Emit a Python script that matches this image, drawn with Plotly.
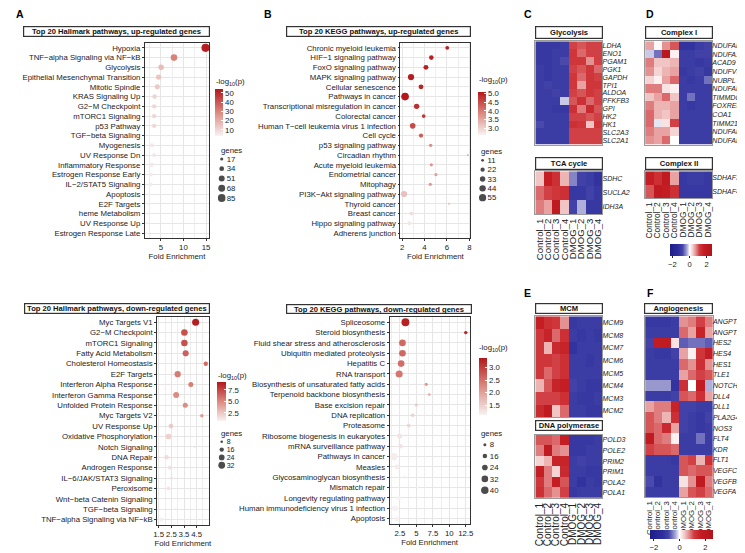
import plotly.graph_objects as go

W, H = 745, 553
FONT = "Liberation Sans, Arial, sans-serif"
FS = 7.8

# ---------------- A: Hallmark, up ----------------
hall_up_terms = ["Hypoxia", "TNF−alpha Signaling via NF−kB", "Glycolysis",
                 "Epithelial Mesenchymal Transition", "Mitotic Spindle", "KRAS Signaling Up",
                 "G2−M Checkpoint", "mTORC1 Signaling", "p53 Pathway", "TGF−beta Signaling",
                 "Myogenesis", "UV Response Dn", "Inflammatory Response", "Estrogen Response Early",
                 "IL−2/STAT5 Signaling", "Apoptosis", "E2F Targets", "heme Metabolism",
                 "UV Response Up", "Estrogen Response Late"]
hall_up_fold = [14.9, 7.9, 5.05, 4.5, 4.2, 3.6, 3.5, 3.5, 3.5, 6.1,
                3.0, 3.5, 3.0, 2.8, 2.7, 2.4, 2.1, 2.1, 1.9, 1.8]
hall_up_logp = [52, 30, 16, 14, 13, 10, 9.5, 9.5, 9.5, 4,
                6, 6, 5.5, 5, 5, 3.8, 3.2, 3.2, 2.8, 2.8]
hall_up_genes = [92, 62, 45, 42, 38, 32, 30, 30, 30, 8,
                 25, 22, 25, 22, 22, 17, 14, 15, 12, 11]
hall_up_legend = [17, 34, 51, 68, 85]

# ---------------- B: KEGG, up ----------------
kegg_up_terms = ["Chronic myeloid leukemia", "HIF−1 signaling pathway", "FoxO signaling pathway",
                 "MAPK signaling pathway", "Cellular senescence", "Pathways in cancer",
                 "Transcriptional misregulation in cancer", "Colorectal cancer",
                 "Human T−cell leukemia virus 1 infection", "Cell cycle", "p53 signaling pathway",
                 "Circadian rhythm", "Acute myeloid leukemia", "Endometrial cancer", "Mitophagy",
                 "PI3K−Akt signaling pathway", "Thyroid cancer", "Breast cancer",
                 "Hippo signaling pathway", "Adherens junction"]
kegg_up_fold = [6.03, 4.61, 4.13, 2.80, 3.69, 2.27, 3.30, 3.93, 2.95, 3.69,
                4.55, 7.87, 4.61, 5.02, 4.52, 2.18, 6.18, 2.83, 2.65, 3.9]
kegg_up_logp = [5.0, 5.0, 5.0, 5.05, 4.95, 5.1, 4.85, 4.75, 4.55, 4.35,
                3.85, 3.7, 3.75, 3.65, 3.7, 3.25, 3.25, 2.9, 2.8, 2.7]
kegg_up_genes = [18, 24, 28, 42, 28, 60, 33, 17, 35, 22,
                 15, 6, 14, 13, 14, 40, 7, 18, 20, 11]
kegg_up_legend = [11, 22, 33, 44, 55]

# ---------------- A: Hallmark, down ----------------
hall_dn_terms = ["Myc Targets V1", "G2−M Checkpoint", "mTORC1 Signaling", "Fatty Acid Metabolism",
                 "Cholesterol Homeostasis", "E2F Targets", "Interferon Alpha Response",
                 "Interferon Gamma Response", "Unfolded Protein Response", "Myc Targets V2",
                 "UV Response Up", "Oxidative Phosphorylation", "Notch Signaling", "DNA Repair",
                 "Androgen Response", "IL−6/JAK/STAT3 Signaling", "Peroxisome",
                 "Wnt−beta Catenin Signaling", "TGF−beta Signaling", "TNF−alpha Signaling via NF−kB"]
hall_dn_fold = [4.42, 3.53, 3.53, 3.63, 5.22, 3.0, 4.04, 2.88, 3.6, 4.91,
                2.47, 2.27, 4.35, 2.12, 2.37, 2.5, 2.27, 3.17, 2.86, 1.7]
hall_dn_logp = [9.0, 7.2, 7.2, 6.6, 6.2, 5.6, 5.5, 5.0, 5.0, 4.4,
                2.5, 2.2, 1.8, 1.8, 1.6, 1.5, 1.5, 1.2, 1.2, 1.0]
hall_dn_genes = [34, 30, 30, 27, 16, 28, 20, 26, 20, 12,
                 18, 24, 5, 17, 13, 11, 13, 5, 7, 15]
hall_dn_legend = [8, 16, 24, 32]

# ---------------- B: KEGG, down ----------------
kegg_dn_terms = ["Spliceosome", "Steroid biosynthesis", "Fluid shear stress and atherosclerosis",
                 "Ubiquitin mediated proteolysis", "Hepatitis C", "RNA transport",
                 "Biosynthesis of unsaturated fatty acids", "Terpenoid backbone biosynthesis",
                 "Base excision repair", "DNA replication", "Proteasome",
                 "Ribosome biogenesis in eukaryotes", "mRNA surveillance pathway",
                 "Pathways in cancer", "Measles", "Glycosaminoglycan biosynthesis",
                 "Mismatch repair", "Longevity regulating pathway",
                 "Human immunodeficiency virus 1 infection", "Apoptosis"]
kegg_dn_fold = [3.35, 12.5, 2.9, 2.9, 2.7, 2.4, 6.5, 6.96, 5.0, 4.45,
                3.85, 2.45, 2.6, 1.6, 2.1, 3.2, 5.2, 2.4, 1.75, 2.05]
kegg_dn_logp = [3.3, 3.3, 2.6, 2.6, 2.55, 2.45, 2.1, 1.85, 1.55, 1.5,
                1.45, 1.3, 1.3, 1.2, 1.2, 1.2, 1.15, 1.15, 1.15, 1.15]
kegg_dn_genes = [44, 10, 32, 32, 32, 36, 9, 7, 9, 11,
                 12, 20, 17, 38, 18, 8, 5, 14, 24, 16]
kegg_dn_legend = [8, 16, 24, 32, 40]

# ---------------- heatmaps (row z-scores) ----------------
samples = ["Control_1", "Control_2", "Control_3", "Control_4",
           "DMOG_1", "DMOG_2", "DMOG_3", "DMOG_4"]

glyco_genes = ["LDHA", "ENO1", "PGAM1", "PGK1", "GAPDH", "TPI1", "ALDOA", "PFKFB3",
               "GPI", "HK2", "HK1", "SLC2A3", "SLC2A1"]
glyco_z = [
    [-1.1, -1.1, -1.1, -1.0, 1.1, 1.0, 1.1, 1.1],
    [-1.1, -1.1, -1.0, -1.0, 1.2, 0.9, 1.1, 1.1],
    [-1.1, -1.1, -1.0, -0.8, 1.2, 1.2, 0.7, 1.1],
    [-1.0, -1.1, -1.0, -1.0, 1.1, 1.0, 1.2, 0.9],
    [-1.0, -1.1, -1.0, -1.0, 1.2, 0.9, 1.2, 1.1],
    [-1.0, -0.9, -1.0, -1.0, 1.2, 0.6, 1.2, 1.2],
    [-1.0, -1.0, -0.9, -1.0, 1.1, 1.0, 1.2, 1.1],
    [-1.0, -1.0, -1.0, -0.2, 1.0, 1.3, 0.9, 1.1],
    [-1.0, -1.0, -1.1, -1.1, 1.3, 0.8, 1.4, 1.0],
    [-1.0, -1.0, -1.0, -1.0, 1.1, 1.1, 1.0, 1.1],
    [-0.8, -1.0, -1.0, -1.0, 1.3, 1.2, 0.4, 1.2],
    [-1.0, -1.0, -1.0, -1.0, 1.1, 1.1, 1.1, 1.1],
    [-1.0, -1.0, -1.0, -1.0, 1.1, 1.1, 1.1, 1.1],
]
tca_genes = ["SDHC", "SUCLA2", "IDH3A"]
tca_z = [
    [0.4, 1.6, 1.3, 0.5, -0.5, -0.9, -1.0, -1.2],
    [0.9, 1.1, 1.2, 1.3, -1.1, -1.1, -0.9, -1.1],
    [0.8, 0.6, 1.9, 0.4, -0.9, -0.3, -1.1, -1.1],
]
cplx1_genes = ["NDUFAF8", "NDUFA12", "ACAD9", "NDUFV3", "NUBPL", "NDUFAF4", "TIMMDC1",
               "FOXRED1", "COA1", "TIMM21", "NDUFAF7", "NDUFAF1"]
cplx1_z = [
    [0.6, 0.05, 0.7, 1.0, -1.2, -1.2, -1.0, -0.9],
    [-0.2, -0.6, 2.2, 0.1, -1.0, -1.0, -0.9, -0.9],
    [0.8, 0.4, 0.4, 0.5, -1.0, -1.0, -1.1, -1.0],
    [0.7, 0.3, 0.5, 0.6, -1.1, -1.0, -0.9, -1.1],
    [0.3, 0.1, 0.6, 0.9, -1.0, -1.1, -1.0, -0.6],
    [0.8, 0.8, 0.2, 0.1, -1.0, -1.0, -1.0, -1.0],
    [0.4, 0.6, 0.9, 0.4, -1.0, -0.6, -1.0, -1.0],
    [0.8, 0.5, 0.5, 0.6, -1.0, -1.1, -1.0, -1.0],
    [0.9, 0.5, 0.4, 0.6, -1.0, -1.0, -1.0, -1.0],
    [0.9, -0.1, 0.2, 1.1, -1.0, -1.0, -1.0, -1.0],
    [0.8, 0.6, 0.6, 0.3, -1.0, -1.0, -1.0, -1.0],
    [0.7, 0.6, 0.9, 0.0, -1.0, -1.0, -1.0, -1.0],
]
cplx2_genes = ["SDHAF3", "SDHAF4"]
cplx2_z = [
    [1.6, 1.3, 1.8, 0.6, -1.1, -1.0, -1.0, -1.1],
    [1.0, 1.8, 1.6, 1.3, -1.1, -1.1, -1.1, -1.1],
]
mcm_genes = ["MCM9", "MCM8", "MCM7", "MCM6", "MCM5", "MCM4", "MCM3", "MCM2"]
mcm_z = [
    [1.6, 1.3, 1.2, 0.7, -1.1, -1.0, -1.0, -1.0],
    [1.2, 1.5, 0.9, 1.3, -1.0, -1.1, -1.0, -1.1],
    [1.2, 0.5, 1.4, 1.5, -1.2, -1.0, -1.0, -1.0],
    [1.2, 1.2, 1.1, 1.3, -1.0, -1.0, -1.1, -1.0],
    [1.2, 0.9, 1.1, 1.3, -1.0, -1.0, -1.0, -1.0],
    [0.5, 1.0, 1.5, 1.6, -0.9, -1.0, -1.1, -1.1],
    [1.1, 1.1, 1.1, 1.3, -1.0, -1.1, -1.1, -1.0],
    [1.4, 1.8, 0.4, 0.9, -1.0, -1.0, -1.1, -1.1],
]
pol_genes = ["POLD3", "POLE2", "PRIM2", "PRIM1", "POLA2", "POLA1"]
pol_z = [
    [1.0, 1.0, 0.9, 1.6, -1.1, -1.1, -1.1, -1.0],
    [0.8, 1.8, 0.8, 0.7, -1.1, -1.1, -1.0, -1.0],
    [0.3, 0.5, 1.5, 1.5, -1.0, -0.9, -1.0, -1.0],
    [1.6, 0.8, 0.3, 1.4, -1.0, -1.0, -1.1, -1.1],
    [1.2, 0.8, 1.6, 1.0, -1.0, -1.2, -1.0, -1.1],
    [1.3, 0.9, 0.7, 1.1, -1.1, -1.0, -1.0, -1.0],
]
angio_genes = ["ANGPT2", "ANGPTL4", "HES2", "HES4", "HES1", "TLE1", "NOTCH1", "DLL4", "DLL1",
               "PLA2G4A", "NOS3", "FLT4", "KDR", "FLT1", "VEGFC", "VEGFB", "VEGFA"]
angio_z = [
    [-1.1, -1.1, -1.1, -1.0, 0.7, 0.8, 1.1, 0.8],
    [-1.0, -1.0, -1.0, -1.0, 0.9, 0.6, 1.5, 0.6],
    [-0.9, 1.7, 1.8, 0.2, -0.7, -0.6, -0.6, -0.7],
    [-1.0, -1.1, -1.1, -0.9, 0.6, 0.1, 1.2, 1.6],
    [-1.0, -1.0, -1.0, -1.0, 0.9, 0.7, 1.3, 0.7],
    [-1.0, -1.0, -1.0, -1.0, 0.6, 0.9, 1.1, 1.0],
    [-0.4, -0.4, -0.4, -1.2, 1.3, 0.0, 1.7, -0.3],
    [-1.0, -1.0, -1.0, -0.9, 1.0, 0.9, 1.3, 0.6],
    [0.6, 0.8, 0.8, 1.5, -0.9, -0.9, -1.0, -1.0],
    [1.0, 0.8, 0.5, 1.3, -0.9, -1.0, -1.1, -0.9],
    [1.0, 0.9, 1.4, 0.6, -0.9, -1.0, -1.1, -1.0],
    [1.8, 0.9, 0.8, 0.1, -1.0, -1.0, -0.6, -1.0],
    [1.1, 1.0, 1.0, 0.9, -1.0, -1.0, -1.0, -1.0],
    [-1.0, -1.0, -1.0, -1.1, 1.0, 1.1, 0.5, 1.3],
    [-1.0, -1.0, -1.0, -1.0, 1.0, 0.9, 1.0, 1.0],
    [-0.8, -1.2, -1.0, -1.0, 0.2, 0.7, 1.8, 0.8],
    [-1.0, -1.0, -1.0, -1.0, 0.6, 1.0, 1.1, 0.9],
]


def xd(x0, x1):
    return [x0 / W, x1 / W]


def yd(y0, y1):
    return [1 - y1 / H, 1 - y0 / H]


def dot_px(g, lo, hi):
    # ggplot-like area scale: diameter linear in sqrt(genes)
    (g0, d0), (g1, d1) = lo, hi
    b = (d1 - d0) / (g1 ** 0.5 - g0 ** 0.5)
    return [d0 + b * (v ** 0.5 - g0 ** 0.5) for v in g]


DOT_SCALE = [[0, "#f7f3f3"], [0.5, "#dc8a80"], [1, "#b3171b"]]
HEAT_SCALE = [[0.0, "#1c1c8a"], [0.2, "#2e2e9c"], [0.3, "#4444aa"], [0.4, "#a4a4d4"],
              [0.469, "#ffffff"], [0.55, "#f2c6c6"], [0.62, "#e28a8a"], [0.70, "#d03a3e"],
              [0.8, "#c41d23"], [1.0, "#b0141a"]]

dot_panels = [
    dict(terms=hall_up_terms, fold=hall_up_fold, logp=hall_up_logp, genes=hall_up_genes,
         legend=hall_up_legend, box=(134.3, 35, 199.3, 230), xr=[1.44, 15.7],
         ticks=[5, 10, 15], minor=2.5, crange=(2.8, 53.6), cticks=[10, 20, 30, 40, 50],
         cfmt="d", cbar=(205.7, 81.7, 7.6, 46.6), ctitle=(204, 74), size=((17, 3.2), (85, 7.8)),
         leg=(208, 146.1, 216, 194.9), gtitle=(209, 143), lfs=FS,
         title="Top 20 Hallmark pathways, up-regulated genes", tbox=(12.7, 18.3, 199.3, 29.3)),
    dict(terms=kegg_up_terms, fold=kegg_up_fold, logp=kegg_up_logp, genes=kegg_up_genes,
         legend=kegg_up_legend, box=(392.7, 35, 463.3, 230), xr=[1.86, 8.09],
         ticks=[2, 4, 6, 8], minor=1, crange=(2.66, 5.11),
         cticks=[3.0, 3.5, 4.0, 4.5, 5.0], cfmt=".1f", cbar=(471, 83.3, 8.3, 43.4),
         ctitle=(470, 71.7), size=((11, 2.8), (55, 7.3)), leg=(471.7, 147.6, 479.7, 194.4),
         gtitle=(472, 143.3), lfs=FS,
         title="Top 20 KEGG pathways, up-regulated genes", tbox=(278.3, 18.3, 463.3, 29.3)),
    dict(terms=hall_dn_terms, fold=hall_dn_fold, logp=hall_dn_logp, genes=hall_dn_genes,
         legend=hall_dn_legend, box=(146.7, 309, 198.7, 516.8), xr=[1.375, 5.44],
         ticks=[1.5, 2.5, 3.5, 4.5], minor=0.5, crange=(0.85, 9.3),
         cticks=[2.5, 5.0, 7.5], cfmt=".1f", cbar=(207.7, 373.3, 9, 39.4), ctitle=(206, 368.3),
         size=((8, 2.6), (32, 6.8)), leg=(208, 429.8, 216, 461.2), gtitle=(209, 425.7), lfs=7,
         title="Top 20 Hallmark pathways, down-regulated genes", tbox=(13.3, 295, 198.7, 305.7)),
    dict(terms=kegg_dn_terms, fold=kegg_dn_fold, logp=kegg_dn_logp, genes=kegg_dn_genes,
         legend=kegg_dn_legend, box=(381.7, 309.1, 462.7, 515.8), xr=[0.95, 13.1],
         ticks=[2.5, 5.0, 7.5, 10.0, 12.5], minor=1.25, crange=(1.13, 3.4),
         cticks=[1.5, 2.0, 2.5, 3.0], cfmt=".1f", cbar=(471.7, 349.3, 8.3, 57.4),
         ctitle=(470.5, 340), size=((8, 3.0), (40, 7.5)), leg=(474, 431, 482, 488),
         gtitle=(472, 425.7), lfs=FS,
         title="Top 20 KEGG pathways, down-regulated genes", tbox=(277.7, 296, 463.3, 306)),
]

fig = go.Figure()
layout = {}
annotations = []


def box_title(text, x0, y0, x1, y1):
    annotations.append(dict(
        text="<b>%s</b>" % text, x=(x0 + x1) / 2 / W, y=1 - (y0 + y1) / 2 / H,
        xref="paper", yref="paper", xanchor="center", yanchor="middle", showarrow=False,
        width=x1 - x0 - 2, height=y1 - y0 - 2, borderpad=0, bordercolor="#333333",
        borderwidth=1.2, bgcolor="white", font=dict(size=7.6, color="#111111")))


for i, p in enumerate(dot_panels):
    n = i + 1
    x0, y0, x1, y1 = p["box"]
    sizes = dot_px(p["genes"], *p["size"])
    cx, cy, cth, clen = p["cbar"]
    fig.add_trace(go.Scatter(
        x=p["fold"], y=p["terms"], mode="markers", xaxis="x%d" % n, yaxis="y%d" % n,
        showlegend=False, hoverinfo="skip",
        marker=dict(size=sizes, color=p["logp"], colorscale=DOT_SCALE,
                    cmin=p["crange"][0], cmax=p["crange"][1], opacity=1, line=dict(width=0),
                    colorbar=dict(x=cx / W, xanchor="left", y=1 - (cy + clen / 2) / H,
                                  yanchor="middle", lenmode="pixels", len=clen,
                                  thickness=cth, xpad=0, ypad=0, outlinewidth=0,
                                  tickmode="array", tickvals=p["cticks"], ticks="inside",
                                  ticklen=2, tickcolor="white",
                                  tickfont=dict(size=FS, color="#222"),
                                  tickformat=p["cfmt"]))))
    nt = len(p["terms"])
    layout["xaxis%d" % n] = dict(
        domain=xd(x0, x1), anchor="y%d" % n, range=p["xr"], tickmode="array",
        tickvals=p["ticks"], tickangle=0,
        showgrid=True, gridcolor="#e6e6e6", gridwidth=0.7, zeroline=False,
        showline=True, mirror=True, linecolor="#333333", linewidth=0.9,
        ticks="outside", ticklen=2, tickcolor="#333333", tickwidth=0.8,
        tickfont=dict(size=FS, color="#222"),
        minor=dict(dtick=p["minor"], tick0=p["ticks"][0], showgrid=True,
                   gridcolor="#eeeeee", gridwidth=0.5, ticks=""),
        title=dict(text="Fold Enrichment", font=dict(size=FS, color="#222"), standoff=2))
    layout["yaxis%d" % n] = dict(
        domain=yd(y0, y1), anchor="x%d" % n, range=[nt - 0.5, -0.5], type="category",
        tickmode="array", tickvals=p["terms"],
        showgrid=True, gridcolor="#e6e6e6", gridwidth=0.7, zeroline=False,
        showline=True, mirror=True, linecolor="#333333", linewidth=0.9,
        ticks="outside", ticklen=2, tickcolor="#333333", tickwidth=0.8,
        tickfont=dict(size=FS, color="#222"))

    # size legend ("genes")
    m = n + 4
    lx0, ly0, lx1, ly1 = p["leg"]
    labels = [str(v) for v in p["legend"]]
    fig.add_trace(go.Scatter(
        x=["genes"] * len(labels), y=labels, mode="markers", xaxis="x%d" % m,
        yaxis="y%d" % m, showlegend=False, hoverinfo="skip",
        marker=dict(size=dot_px(p["legend"], *p["size"]), color="black", line=dict(width=0))))
    layout["xaxis%d" % m] = dict(domain=xd(lx0, lx1), anchor="y%d" % m, visible=False,
                                 type="category")
    layout["yaxis%d" % m] = dict(domain=yd(ly0, ly1), anchor="x%d" % m, type="category",
                                 side="right", range=[len(labels) - 0.5, -0.5],
                                 tickmode="array", tickvals=labels,
                                 showgrid=False, zeroline=False, showline=False, ticks="",
                                 tickfont=dict(size=p["lfs"], color="#222"))
    gx, gy = p["gtitle"]
    annotations.append(dict(text="genes", x=gx / W, y=1 - gy / H, xref="paper", yref="paper",
                            xanchor="left", yanchor="middle", showarrow=False,
                            font=dict(size=FS, color="#222")))
    tx, ty = p["ctitle"]
    annotations.append(dict(text="-log<sub>10</sub>(p)", x=tx / W, y=1 - ty / H,
                            xref="paper", yref="paper", xanchor="left", yanchor="middle",
                            showarrow=False, font=dict(size=FS, color="#222")))
    box_title(p["title"], *p["tbox"])

# heatmaps
heat_panels = [
    (glyco_genes, glyco_z, (529, 33.3, 596.7, 136.7), 0, "coloraxis", "Glycolysis", (18.3, 30.7)),
    (tca_genes, tca_z, (529, 163.3, 596.7, 206), 9.6, "coloraxis", "TCA cycle", (149.3, 161.7)),
    (cplx1_genes, cplx1_z, (640, 33.3, 707.7, 136.7), 0, "coloraxis", "Complex I", (18.3, 30.7)),
    (cplx2_genes, cplx2_z, (640, 163.3, 707.7, 190), 8.4, "coloraxis", "Complex II", (149.3, 161.7)),
    (mcm_genes, mcm_z, (529, 308.3, 596.7, 409.3), 0, "coloraxis2", "MCM", (295, 306)),
    (pol_genes, pol_z, (529, 426.7, 596.7, 490), 10, "coloraxis2", "DNA polymerase", (411.7, 422.7)),
    (angio_genes, angio_z, (640, 308.3, 708.3, 489.3), 7.8, "coloraxis2", "Angiogenesis", (295, 306)),
]
for j, (genes, z, (x0, y0, x1, y1), colfs, cax, title, (t0, t1)) in enumerate(heat_panels):
    n = 9 + j
    fig.add_trace(go.Heatmap(z=z, x=samples, y=genes, coloraxis=cax, xaxis="x%d" % n,
                             yaxis="y%d" % n, hoverinfo="skip"))
    layout["xaxis%d" % n] = dict(domain=xd(x0, x1), anchor="y%d" % n,
                                 showticklabels=colfs > 0, tickmode="array", tickvals=samples,
                                 tickangle=-90, ticks="", ticklen=0, showgrid=False,
                                 zeroline=False, showline=True, mirror=True,
                                 linecolor="#9a9a9a", linewidth=0.7,
                                 tickfont=dict(size=max(colfs, 1), color="#222"))
    layout["yaxis%d" % n] = dict(domain=yd(y0, y1), anchor="x%d" % n, side="right",
                                 tickmode="array", tickvals=genes, ticklabelstandoff=-2,
                                 autorange="reversed", ticks="", ticklen=0, showgrid=False,
                                 zeroline=False, showline=True, mirror=True,
                                 linecolor="#9a9a9a", linewidth=0.7,
                                 tickfont=dict(size=7.0, color="#222", style="italic"))
    box_title(title, x0, t0, x1, t1)


def heat_axis(x0, x1, y0, y1):
    return dict(cmin=-2.3, cmax=2.6, colorscale=HEAT_SCALE,
                colorbar=dict(orientation="h", x=x0 / W, xanchor="left", y=1 - y0 / H,
                              yanchor="top", lenmode="pixels", len=x1 - x0,
                              thickness=y1 - y0, xpad=0, ypad=0, outlinewidth=0,
                              tickmode="array", tickvals=[-2, 0, 2], ticks="outside",
                              ticklen=2, tickcolor="#222",
                              tickfont=dict(size=7.6, color="#222")))


layout["coloraxis"] = heat_axis(665, 706.7, 236, 248)
layout["coloraxis2"] = heat_axis(645, 707.7, 522, 531)

for letter, lx, ly in [("A", 2, 6), ("B", 253, 6), ("C", 516, 6), ("D", 639, 6),
                       ("E", 516, 285), ("F", 640, 285)]:
    annotations.append(dict(text="<b>%s</b>" % letter, x=lx / W, y=1 - ly / H,
                            xref="paper", yref="paper", xanchor="left", yanchor="middle",
                            showarrow=False, font=dict(size=10.5, color="black")))

fig.update_layout(**layout)
fig.update_layout(width=W, height=H, autosize=False, margin=dict(l=0, r=0, t=0, b=0),
                  paper_bgcolor="white", plot_bgcolor="white",
                  font=dict(family=FONT, size=FS, color="#222"),
                  annotations=annotations, showlegend=False)
fig.write_html("out.html")
